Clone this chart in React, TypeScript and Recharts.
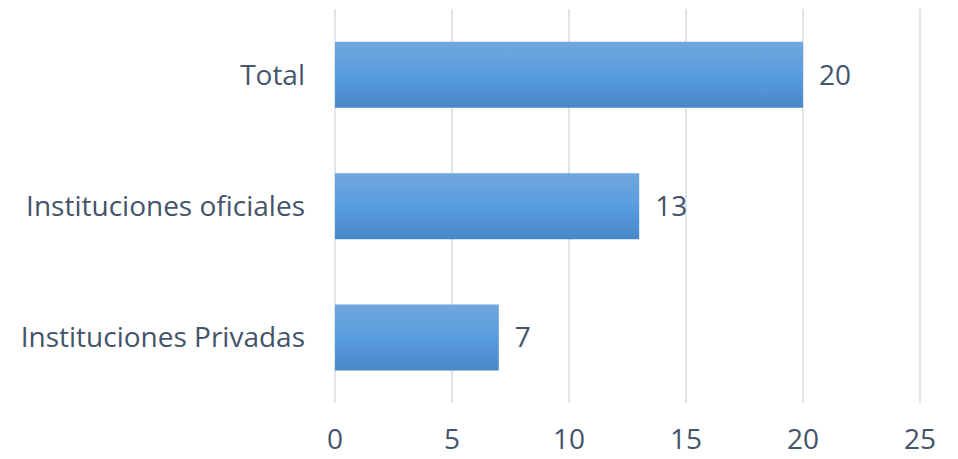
import { Bar, BarChart, CartesianGrid, LabelList, XAxis, YAxis } from "recharts";

const categories = ["Total", "Instituciones oficiales", "Instituciones Privadas"];
const values = [20, 13, 7];
const xTicks = [0, 5, 10, 15, 20, 25];

const data = categories.map((name, i) => ({ name, value: values[i] }));

const textColor = "#44546a";
const font = "'Open Sans', sans-serif";

export default function App() {
  return (
    <div style={{ position: "absolute", left: 0, top: 0, width: 958, height: 459, background: "#fff" }}>
      <BarChart
        width={958}
        height={459}
        data={data}
        layout="vertical"
        margin={{ top: 9, right: 38, bottom: 0, left: 0 }}
        barCategoryGap="25%"
      >
        <defs>
          <linearGradient id="barFill" x1="0" y1="0" x2="0" y2="1">
            <stop offset="0%" stopColor="#70a7dd" />
            <stop offset="50%" stopColor="#599ddf" />
            <stop offset="100%" stopColor="#4888c9" />
          </linearGradient>
        </defs>
        <CartesianGrid stroke="#e1e4e9" strokeWidth={2} horizontal={false} />
        <XAxis
          type="number"
          domain={[0, 25]}
          ticks={xTicks}
          height={56}
          axisLine={false}
          tickLine={false}
          tickMargin={20}
          tick={{ fill: textColor, fontSize: 28, fontFamily: font }}
        />
        <YAxis
          type="category"
          dataKey="name"
          width={335}
          axisLine={false}
          tickLine={false}
          tickMargin={24}
          tick={{ fill: textColor, fontSize: 28, fontFamily: font }}
        />
        <Bar dataKey="value" fill="url(#barFill)" isAnimationActive={false}>
          <LabelList
            dataKey="value"
            position="right"
            offset={16}
            fill={textColor}
            fontSize={28}
            fontFamily={font}
          />
        </Bar>
      </BarChart>
    </div>
  );
}
